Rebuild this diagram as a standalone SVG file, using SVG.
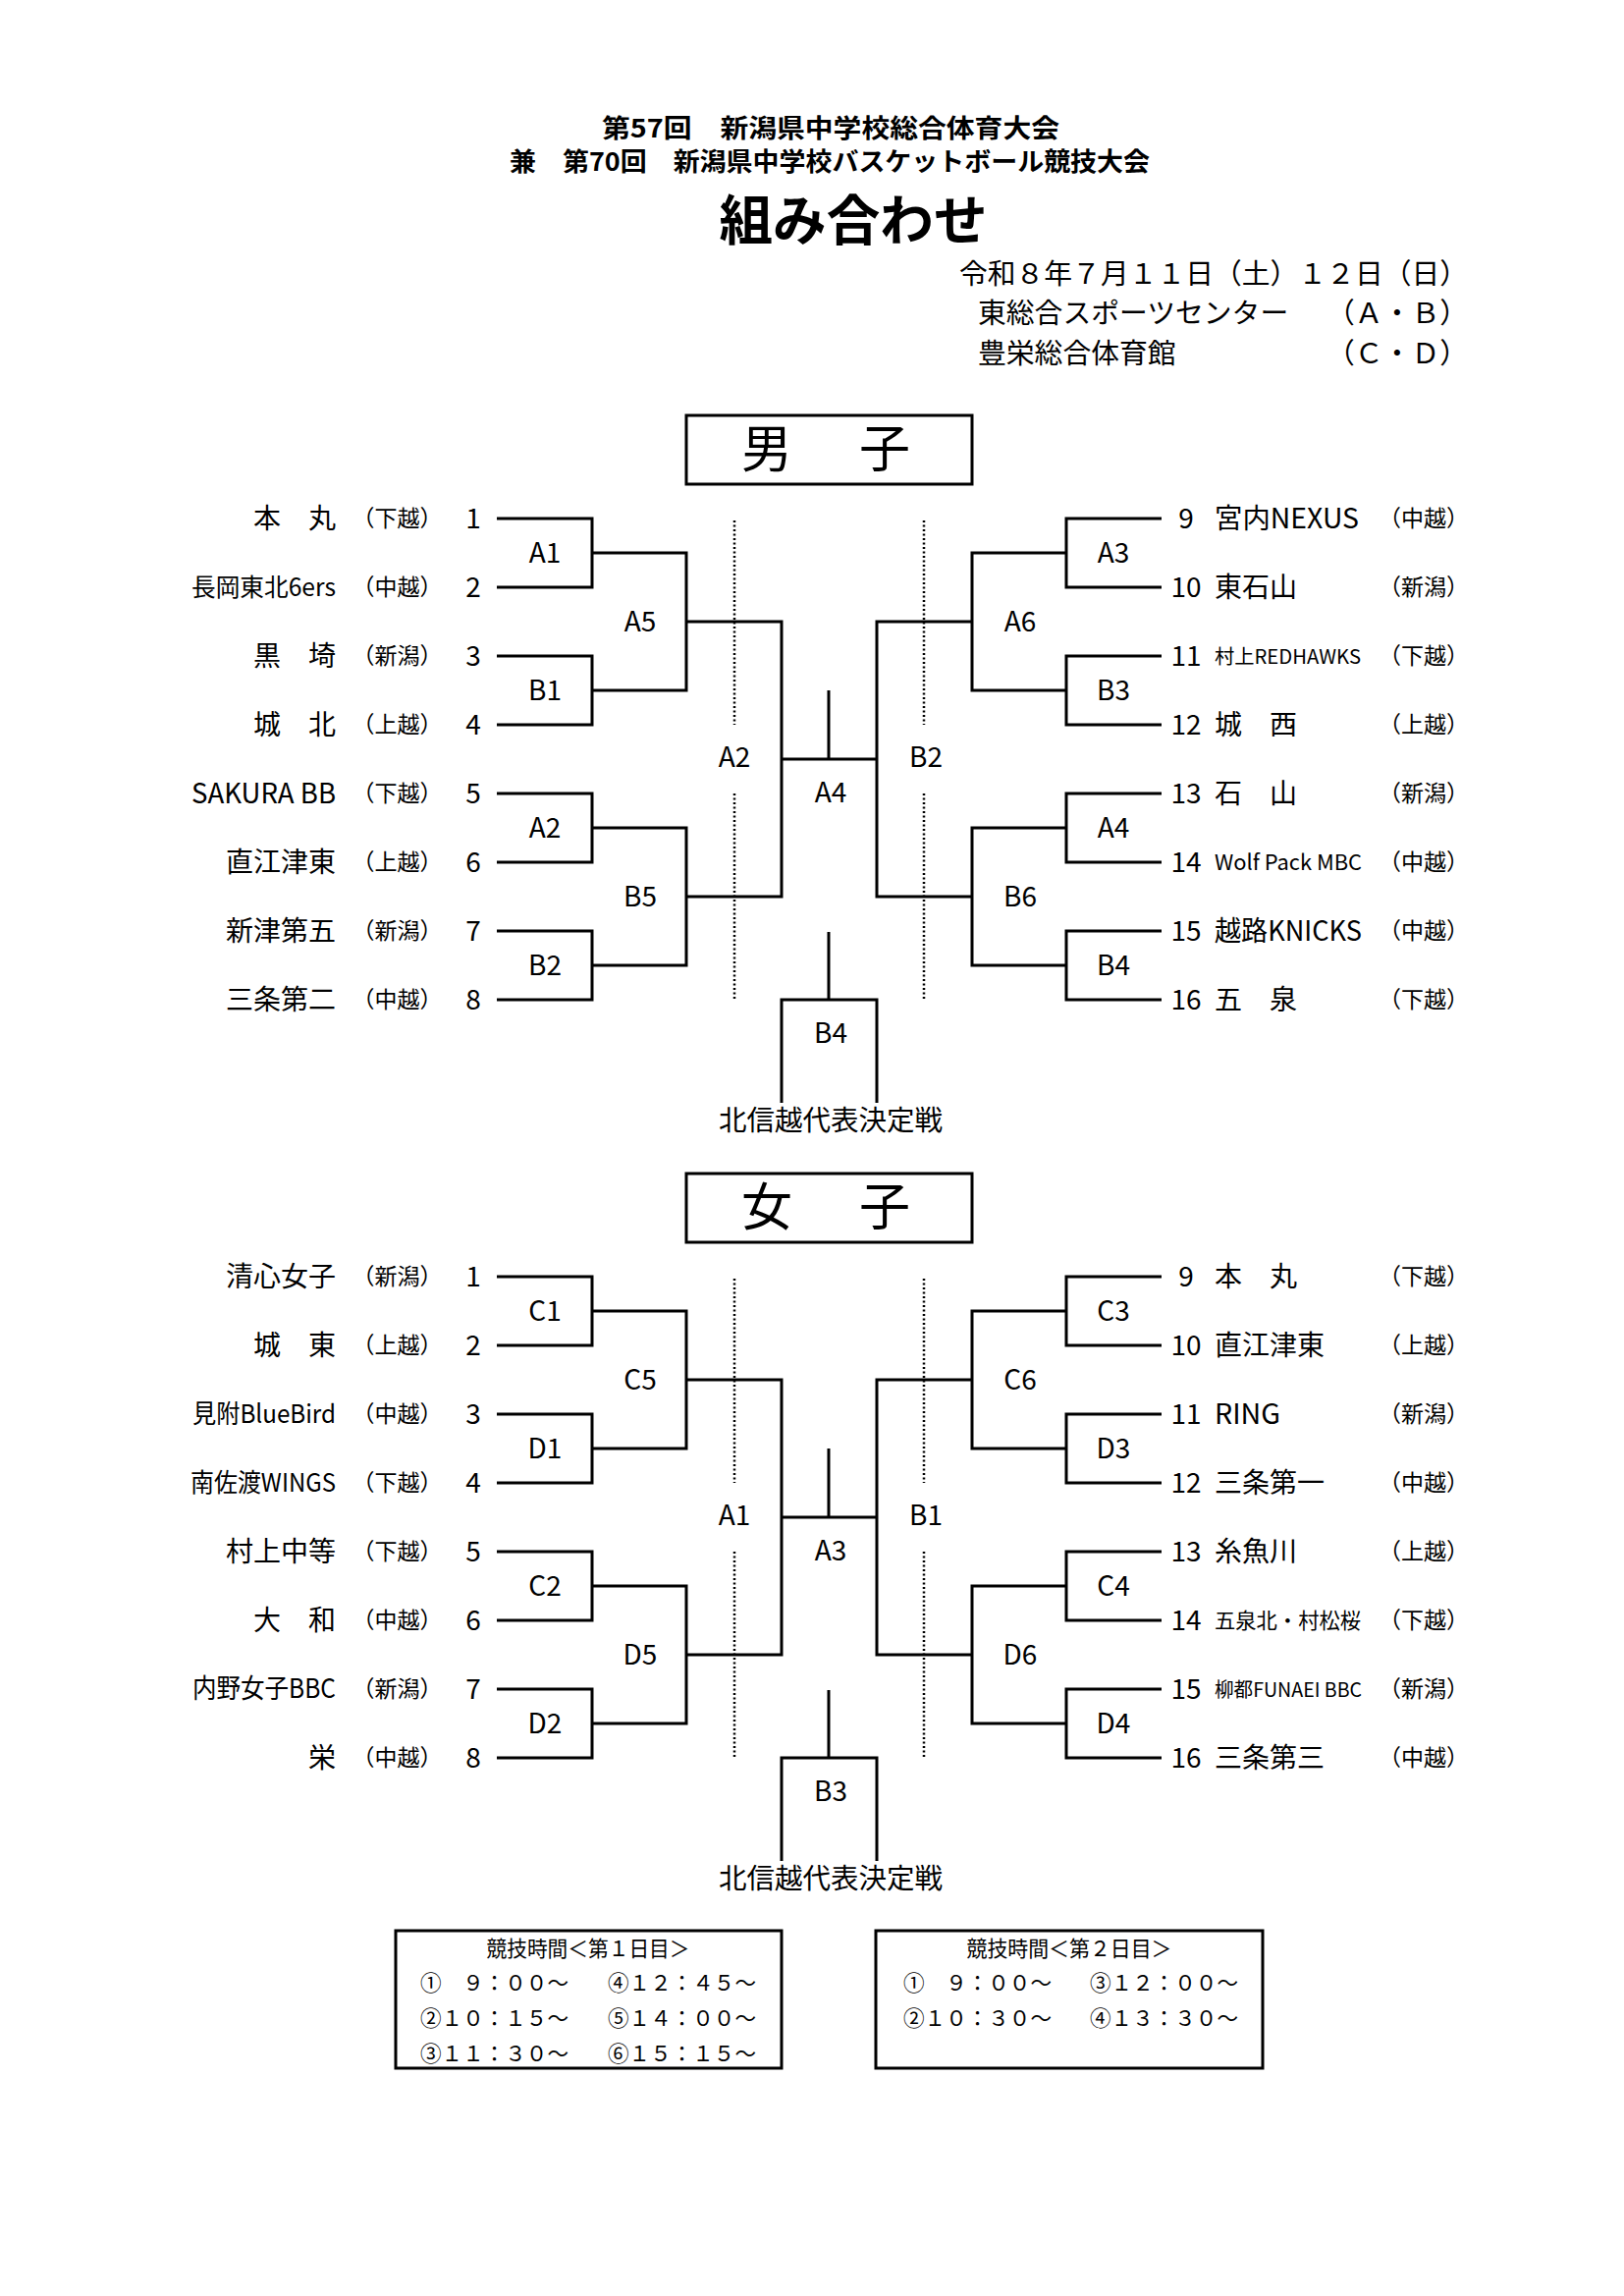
<svg xmlns="http://www.w3.org/2000/svg" width="1654" height="2338" viewBox="0 0 1654 2338">
<style>
text{font-family:'Noto Sans CJK JP','Noto Sans CJK SC',sans-serif;fill:#000}
.b{font-weight:bold}
.nm{font-size:28px}
.e{text-anchor:end}
.m{text-anchor:middle}
.rg{font-size:23px;text-anchor:middle}
.no{font-size:28px;text-anchor:middle}
.lb{font-size:28px;text-anchor:middle}
.ln{fill:none;stroke:#000;stroke-width:3}
.dot{fill:none;stroke:#000;stroke-width:2.5;stroke-dasharray:2 2.5}
.box{fill:none;stroke:#000;stroke-width:3}
.tt{font-size:22px}
</style>
<rect width="1654" height="2338" fill="#fff"/>

<g id="header">
<text class="b m" x="846" y="140" font-size="26" textLength="466" lengthAdjust="spacingAndGlyphs">第57回　新潟県中学校総合体育大会</text>
<text class="b m" x="845" y="174" font-size="26" textLength="652" lengthAdjust="spacingAndGlyphs">兼　第70回　新潟県中学校バスケットボール競技大会</text>
<text class="b m" x="869" y="244" font-size="55" textLength="273" lengthAdjust="spacingAndGlyphs">組み合わせ</text>
<text x="977" y="289" font-size="28.8" textLength="518" lengthAdjust="spacingAndGlyphs">令和８年７月１１日（土）１２日（日）</text>
<text x="996" y="329" font-size="28.8">東総合スポーツセンター</text>
<text class="e" x="1495" y="329" font-size="28.8">（Ａ・Ｂ）</text>
<text x="996" y="370" font-size="28.8">豊栄総合体育館</text>
<text class="e" x="1495" y="370" font-size="28.8">（Ｃ・Ｄ）</text>
</g>

<!-- ===== MALE ===== -->
<g id="male-title">
<rect class="box" x="699" y="423" width="291" height="70"/>
<text class="m" x="845" y="476" font-size="52" letter-spacing="8">男　子</text>
</g>

<g id="connectors">
<path class="ln" d="M506,528H603V598H506M506,668H603V738H506M506,808H603V878H506M506,948H603V1018H506M603,563H699V703H603M603,843H699V983H603M699,633H796V913H699M796,773H893M844,703V773M1183,528H1086V598H1183M1183,668H1086V738H1183M1183,808H1086V878H1183M1183,948H1086V1018H1183M1086,563H990V703H1086M1086,843H990V983H1086M990,633H893V913H990M844,949V1018M796,1123V1018H893V1123"/>
<path class="dot" d="M748,530V738M748,808V1017M941,530V738M941,808V1017"/>
<path class="ln" d="M506,1300H603V1370H506M506,1440H603V1510H506M506,1580H603V1650H506M506,1720H603V1790H506M603,1335H699V1475H603M603,1615H699V1755H603M699,1405H796V1685H699M796,1545H893M844,1475V1545M1183,1300H1086V1370H1183M1183,1440H1086V1510H1183M1183,1580H1086V1650H1183M1183,1720H1086V1790H1183M1086,1335H990V1475H1086M1086,1615H990V1755H1086M990,1405H893V1685H990M844,1721V1790M796,1895V1790H893V1895"/>
<path class="dot" d="M748,1302V1510M748,1580V1789M941,1302V1510M941,1580V1789"/>
</g>

<g id="m-team1"><text class="nm e" x="342" y="538">本　丸</text><text class="rg" x="404.5" y="536">（下越）</text><text class="no" x="482" y="538">1</text></g>
<g id="m-team2"><text class="e" x="342" y="607" font-size="25" textLength="147" lengthAdjust="spacingAndGlyphs">長岡東北6ers</text><text class="rg" x="404.5" y="606">（中越）</text><text class="no" x="482" y="608">2</text></g>
<g id="m-team3"><text class="nm e" x="342" y="678">黒　埼</text><text class="rg" x="404.5" y="676">（新潟）</text><text class="no" x="482" y="678">3</text></g>
<g id="m-team4"><text class="nm e" x="342" y="748">城　北</text><text class="rg" x="404.5" y="746">（上越）</text><text class="no" x="482" y="748">4</text></g>
<g id="m-team5"><text class="nm e" x="342" y="818" textLength="147" lengthAdjust="spacingAndGlyphs">SAKURA BB</text><text class="rg" x="404.5" y="816">（下越）</text><text class="no" x="482" y="818">5</text></g>
<g id="m-team6"><text class="nm e" x="342" y="888">直江津東</text><text class="rg" x="404.5" y="886">（上越）</text><text class="no" x="482" y="888">6</text></g>
<g id="m-team7"><text class="nm e" x="342" y="958">新津第五</text><text class="rg" x="404.5" y="956">（新潟）</text><text class="no" x="482" y="958">7</text></g>
<g id="m-team8"><text class="nm e" x="342" y="1028">三条第二</text><text class="rg" x="404.5" y="1026">（中越）</text><text class="no" x="482" y="1028">8</text></g>

<g id="m-team9"><text class="no" x="1208" y="538">9</text><text class="nm" x="1237" y="538" textLength="147" lengthAdjust="spacingAndGlyphs">宮内NEXUS</text><text class="rg" x="1450" y="536">（中越）</text></g>
<g id="m-team10"><text class="no" x="1208" y="608">10</text><text class="nm" x="1237" y="608">東石山</text><text class="rg" x="1450" y="606">（新潟）</text></g>
<g id="m-team11"><text class="no" x="1208" y="678">11</text><text x="1237" y="676" font-size="20" textLength="149" lengthAdjust="spacingAndGlyphs">村上REDHAWKS</text><text class="rg" x="1450" y="676">（下越）</text></g>
<g id="m-team12"><text class="no" x="1208" y="748">12</text><text class="nm" x="1237" y="748">城　西</text><text class="rg" x="1450" y="746">（上越）</text></g>
<g id="m-team13"><text class="no" x="1208" y="818">13</text><text class="nm" x="1237" y="818">石　山</text><text class="rg" x="1450" y="816">（新潟）</text></g>
<g id="m-team14"><text class="no" x="1208" y="888">14</text><text x="1237" y="886" font-size="22" textLength="150" lengthAdjust="spacingAndGlyphs">Wolf Pack MBC</text><text class="rg" x="1450" y="886">（中越）</text></g>
<g id="m-team15"><text class="no" x="1208" y="958">15</text><text class="nm" x="1237" y="958" textLength="150" lengthAdjust="spacingAndGlyphs">越路KNICKS</text><text class="rg" x="1450" y="956">（中越）</text></g>
<g id="m-team16"><text class="no" x="1208" y="1028">16</text><text class="nm" x="1237" y="1028">五　泉</text><text class="rg" x="1450" y="1026">（下越）</text></g>

<g id="m-A1"><text class="lb" x="555" y="573">A1</text></g>
<g id="m-B1"><text class="lb" x="555" y="713">B1</text></g>
<g id="m-A2"><text class="lb" x="555" y="853">A2</text></g>
<g id="m-B2"><text class="lb" x="555" y="993">B2</text></g>
<g id="m-A5"><text class="lb" x="652" y="643">A5</text></g>
<g id="m-B5"><text class="lb" x="652" y="923">B5</text></g>
<g id="m-A3"><text class="lb" x="1134" y="573">A3</text></g>
<g id="m-B3"><text class="lb" x="1134" y="713">B3</text></g>
<g id="m-A4r"><text class="lb" x="1134" y="853">A4</text></g>
<g id="m-B4r"><text class="lb" x="1134" y="993">B4</text></g>
<g id="m-A6"><text class="lb" x="1039" y="643">A6</text></g>
<g id="m-B6"><text class="lb" x="1039" y="923">B6</text></g>
<g id="m-A2c"><text class="lb" x="748" y="781">A2</text></g>
<g id="m-B2c"><text class="lb" x="943" y="781">B2</text></g>
<g id="m-A4c"><text class="lb" x="846" y="817">A4</text></g>
<g id="m-B4c"><text class="lb" x="846" y="1062">B4</text></g>
<g id="m-final"><text class="m" x="846" y="1151" font-size="28.5">北信越代表決定戦</text></g>

<!-- ===== FEMALE ===== -->
<g id="female-title">
<rect class="box" x="699" y="1195" width="291" height="70"/>
<text class="m" x="845" y="1248" font-size="52" letter-spacing="8">女　子</text>
</g>

<g id="f-team1"><text class="nm e" x="342" y="1310">清心女子</text><text class="rg" x="404.5" y="1308">（新潟）</text><text class="no" x="482" y="1310">1</text></g>
<g id="f-team2"><text class="nm e" x="342" y="1380">城　東</text><text class="rg" x="404.5" y="1378">（上越）</text><text class="no" x="482" y="1380">2</text></g>
<g id="f-team3"><text class="e" x="342" y="1449" font-size="26" textLength="146" lengthAdjust="spacingAndGlyphs">見附BlueBird</text><text class="rg" x="404.5" y="1448">（中越）</text><text class="no" x="482" y="1450">3</text></g>
<g id="f-team4"><text class="e" x="342" y="1519" font-size="26" textLength="148" lengthAdjust="spacingAndGlyphs">南佐渡WINGS</text><text class="rg" x="404.5" y="1518">（下越）</text><text class="no" x="482" y="1520">4</text></g>
<g id="f-team5"><text class="nm e" x="342" y="1590">村上中等</text><text class="rg" x="404.5" y="1588">（下越）</text><text class="no" x="482" y="1590">5</text></g>
<g id="f-team6"><text class="nm e" x="342" y="1660">大　和</text><text class="rg" x="404.5" y="1658">（中越）</text><text class="no" x="482" y="1660">6</text></g>
<g id="f-team7"><text class="e" x="342" y="1729" font-size="27" textLength="146" lengthAdjust="spacingAndGlyphs">内野女子BBC</text><text class="rg" x="404.5" y="1728">（新潟）</text><text class="no" x="482" y="1730">7</text></g>
<g id="f-team8"><text class="nm e" x="342" y="1800">栄</text><text class="rg" x="404.5" y="1798">（中越）</text><text class="no" x="482" y="1800">8</text></g>

<g id="f-team9"><text class="no" x="1208" y="1310">9</text><text class="nm" x="1237" y="1310">本　丸</text><text class="rg" x="1450" y="1308">（下越）</text></g>
<g id="f-team10"><text class="no" x="1208" y="1380">10</text><text class="nm" x="1237" y="1380">直江津東</text><text class="rg" x="1450" y="1378">（上越）</text></g>
<g id="f-team11"><text class="no" x="1208" y="1450">11</text><text class="nm" x="1237" y="1450" textLength="67" lengthAdjust="spacingAndGlyphs">RING</text><text class="rg" x="1450" y="1448">（新潟）</text></g>
<g id="f-team12"><text class="no" x="1208" y="1520">12</text><text class="nm" x="1237" y="1520">三条第一</text><text class="rg" x="1450" y="1518">（中越）</text></g>
<g id="f-team13"><text class="no" x="1208" y="1590">13</text><text class="nm" x="1237" y="1590">糸魚川</text><text class="rg" x="1450" y="1588">（上越）</text></g>
<g id="f-team14"><text class="no" x="1208" y="1660">14</text><text x="1237" y="1658" font-size="21.3" textLength="149" lengthAdjust="spacingAndGlyphs">五泉北・村松桜</text><text class="rg" x="1450" y="1658">（下越）</text></g>
<g id="f-team15"><text class="no" x="1208" y="1730">15</text><text x="1237" y="1728" font-size="20" textLength="150" lengthAdjust="spacingAndGlyphs">柳都FUNAEI BBC</text><text class="rg" x="1450" y="1728">（新潟）</text></g>
<g id="f-team16"><text class="no" x="1208" y="1800">16</text><text class="nm" x="1237" y="1800">三条第三</text><text class="rg" x="1450" y="1798">（中越）</text></g>

<g id="f-C1"><text class="lb" x="555" y="1345">C1</text></g>
<g id="f-D1"><text class="lb" x="555" y="1485">D1</text></g>
<g id="f-C2"><text class="lb" x="555" y="1625">C2</text></g>
<g id="f-D2"><text class="lb" x="555" y="1765">D2</text></g>
<g id="f-C5"><text class="lb" x="652" y="1415">C5</text></g>
<g id="f-D5"><text class="lb" x="652" y="1695">D5</text></g>
<g id="f-C3"><text class="lb" x="1134" y="1345">C3</text></g>
<g id="f-D3"><text class="lb" x="1134" y="1485">D3</text></g>
<g id="f-C4"><text class="lb" x="1134" y="1625">C4</text></g>
<g id="f-D4"><text class="lb" x="1134" y="1765">D4</text></g>
<g id="f-C6"><text class="lb" x="1039" y="1415">C6</text></g>
<g id="f-D6"><text class="lb" x="1039" y="1695">D6</text></g>
<g id="f-A1c"><text class="lb" x="748" y="1553">A1</text></g>
<g id="f-B1c"><text class="lb" x="943" y="1553">B1</text></g>
<g id="f-A3c"><text class="lb" x="846" y="1589">A3</text></g>
<g id="f-B3c"><text class="lb" x="846" y="1834">B3</text></g>
<g id="f-final"><text class="m" x="846" y="1923" font-size="28.5">北信越代表決定戦</text></g>

<!-- ===== TIMETABLES ===== -->
<g id="time-day1">
<rect class="box" x="403" y="1966" width="393" height="140"/>
<text class="tt m" x="599" y="1992" textLength="207" lengthAdjust="spacingAndGlyphs">競技時間＜第１日目＞</text>
<text class="tt" x="428" y="2027" textLength="151" lengthAdjust="spacingAndGlyphs">①　９：００～</text>
<text class="tt" x="428" y="2063" textLength="151" lengthAdjust="spacingAndGlyphs">②１０：１５～</text>
<text class="tt" x="428" y="2099" textLength="151" lengthAdjust="spacingAndGlyphs">③１１：３０～</text>
<text class="tt" x="619" y="2027" textLength="151" lengthAdjust="spacingAndGlyphs">④１２：４５～</text>
<text class="tt" x="619" y="2063" textLength="151" lengthAdjust="spacingAndGlyphs">⑤１４：００～</text>
<text class="tt" x="619" y="2099" textLength="151" lengthAdjust="spacingAndGlyphs">⑥１５：１５～</text>
</g>
<g id="time-day2">
<rect class="box" x="892" y="1966" width="394" height="140"/>
<text class="tt m" x="1089" y="1992" textLength="209" lengthAdjust="spacingAndGlyphs">競技時間＜第２日目＞</text>
<text class="tt" x="920" y="2027" textLength="151" lengthAdjust="spacingAndGlyphs">①　９：００～</text>
<text class="tt" x="920" y="2063" textLength="151" lengthAdjust="spacingAndGlyphs">②１０：３０～</text>
<text class="tt" x="1110" y="2027" textLength="151" lengthAdjust="spacingAndGlyphs">③１２：００～</text>
<text class="tt" x="1110" y="2063" textLength="151" lengthAdjust="spacingAndGlyphs">④１３：３０～</text>
</g>
</svg>
